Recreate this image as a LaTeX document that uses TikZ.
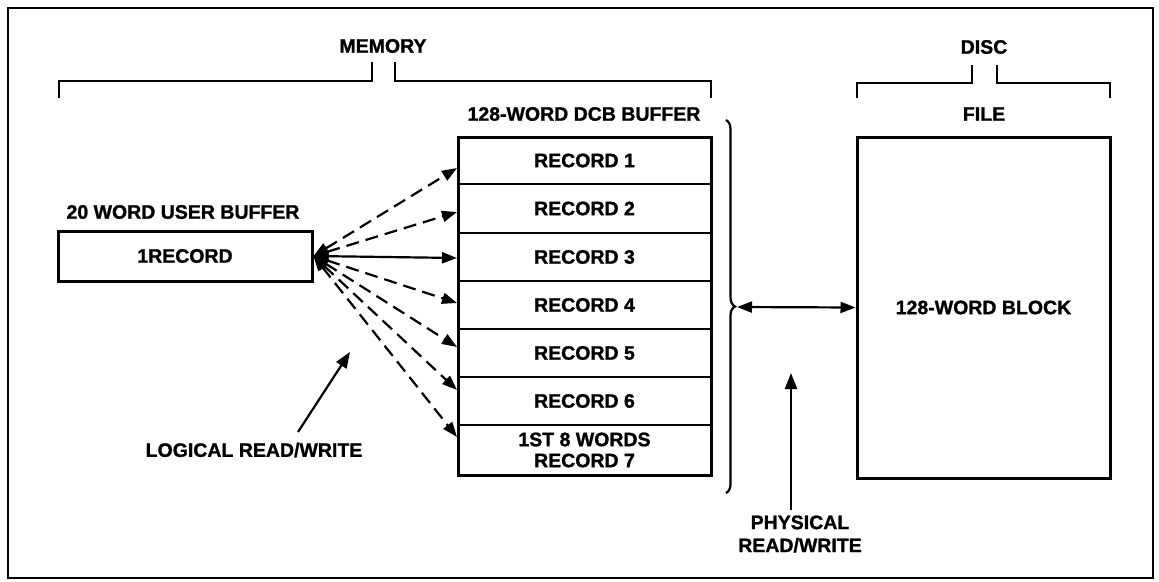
\documentclass[tikz,border=0pt]{standalone}
\usepackage{fontspec}
\setsansfont{Liberation Sans}[BoldFeatures={FakeBold=1.2}]
\usetikzlibrary{arrows.meta,decorations.pathreplacing,calc}
\tikzset{
  lbl/.style={font=\sffamily\bfseries\fontsize{19.5}{22}\selectfont, inner sep=0pt, align=center},
  thickbox/.style={draw, line width=3pt, inner sep=0pt},
  rowbox/.style={draw, line width=2pt, minimum width=253pt, minimum height=48pt, inner sep=0pt,
     font=\sffamily\bfseries\fontsize{19.5}{22}\selectfont, align=center},
  bracket/.style={line width=2.2pt},
  tip/.style={-{Triangle[length=16pt,width=12pt]}},
  dbl/.style={{Triangle[length=15pt,width=11pt]}-{Triangle[length=15pt,width=11pt]}, line width=2.2pt},
  dsh/.style={dash pattern=on 13pt off 7pt},
}
\begin{document}
\begin{tikzpicture}[x=1pt,y=-1pt]
\useasboundingbox (0,0) rectangle (1159,581);
% outer frame
\draw[line width=2.2pt] (8,8) rectangle (1153,578);

% brackets
\draw[bracket] (59,98) -- (59,81) -- (372,81) -- (372,62);
\draw[bracket] (395,62) -- (395,81) -- (711,81) -- (711,98);
\draw[bracket] (857,98) -- (857,83) -- (972,83) -- (972,65);
\draw[bracket] (997,65) -- (997,83) -- (1110,83) -- (1110,98);
\node[lbl] (mem) at (383,46) {MEMORY};
\node[lbl] (disc) at (984,47) {DISC};

% labels
\node[lbl] (dcblbl) at (584,114) {128-WORD DCB BUFFER};
\node[lbl] (filelbl) at (984,114) {FILE};
\node[lbl] (ublbl) at (183,212) {20 WORD USER BUFFER};

% user buffer
\node[thickbox, minimum width=254pt, minimum height=50pt, font=\sffamily\bfseries\fontsize{19.5}{22}\selectfont] (ub) at (185,256) {1RECORD};

% DCB buffer rows
\node[rowbox, minimum height=47pt] (r1) at (584.5,160.5) {RECORD 1};
\node[rowbox, minimum height=49pt] (r2) at (584.5,208.5) {RECORD 2};
\node[rowbox] (r3) at (584.5,257) {RECORD 3};
\node[rowbox] (r4) at (584.5,305) {RECORD 4};
\node[rowbox] (r5) at (584.5,353) {RECORD 5};
\node[rowbox] (r6) at (584.5,401) {RECORD 6};
\node[rowbox, minimum height=50pt, font=\sffamily\bfseries\fontsize{19.5}{21}\selectfont] (r7) at (584.5,450) {1ST 8 WORDS\\RECORD 7};
\node[thickbox, minimum width=253pt, minimum height=338pt] (dcb) at (584.5,306) {};

% file box
\node[thickbox, minimum width=253pt, minimum height=341pt, font=\sffamily\bfseries\fontsize{19.5}{22}\selectfont] (file) at (983.5,307.5) {128-WORD BLOCK};

% brace
\draw[line width=2.2pt, decorate, decoration={brace, amplitude=9pt}] (726,120) -- (726,493);
\coordinate (btip) at (737,307);

% logical fan
\draw[dbl, dsh] (ub.east) -- ([yshift=-7.5pt]r1.west);
\draw[dbl, dsh] (ub.east) -- ([yshift=-3.5pt]r2.west);
\draw[dbl] (ub.east) -- ([yshift=-1pt]r3.west);
\draw[dbl, dsh] (ub.east) -- ([yshift=2pt]r4.west);
\draw[dbl, dsh] (ub.east) -- ([yshift=6pt]r5.west);
\draw[dbl, dsh] (ub.east) -- ([yshift=11pt]r6.west);
\draw[dbl, dsh] (ub.east) -- ([yshift=13pt]r7.west);

% physical
\draw[dbl] (btip) -- (file.west);

% pointer labels
\node[lbl] (lrw) at (254,450) {LOGICAL READ/WRITE};
\coordinate (lrwfrom) at (298,432);
\coordinate (lrwto) at (350,352);
\draw[tip, line width=2.2pt] (lrwfrom) -- (lrwto);

\node[lbl, font=\sffamily\bfseries\fontsize{19.5}{23}\selectfont] (prw) at (800,534) {PHYSICAL\\READ/WRITE};
\coordinate (prwto) at (791,373);
\draw[tip, line width=2.2pt] (prw.north -| prwto) ++(0,-5) -- (prwto);
\end{tikzpicture}
\end{document}
